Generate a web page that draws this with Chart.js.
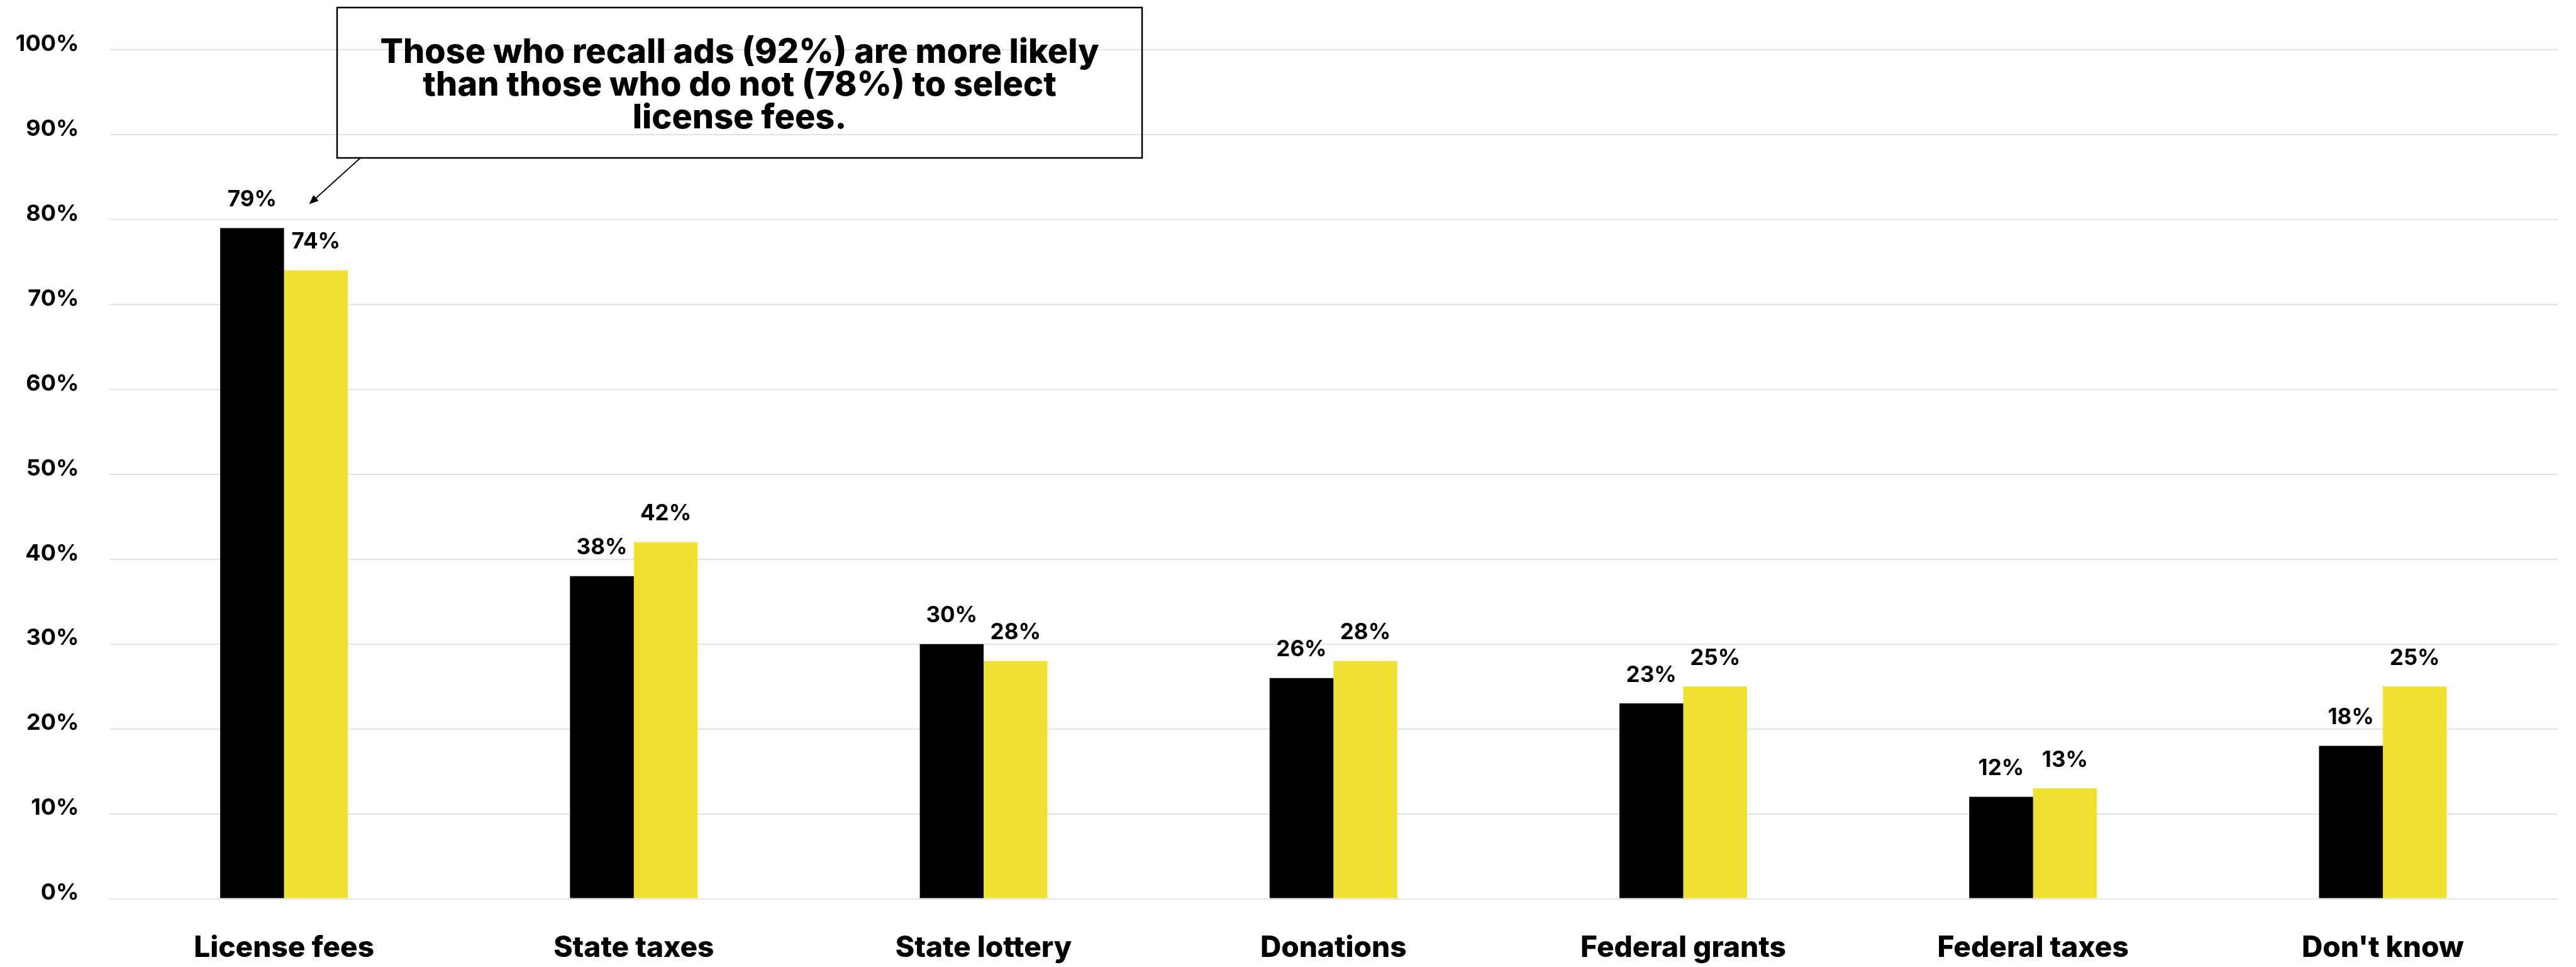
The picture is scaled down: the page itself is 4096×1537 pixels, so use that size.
<!DOCTYPE html>
<html lang="en">
<head>
    <meta charset="UTF-8">
    <title>Funding sources bar chart</title>
    <style>
        html, body {
            margin: 0;
            padding: 0;
            background-color: #ffffff;
        }

        .chart-container {
            width: 4096px;
            height: 1537px;
            position: relative;
        }
    </style>
</head>
<body>
    <div class="chart-container">
        <canvas id="barChart"></canvas>
    </div>

    <script src="https://cdn.jsdelivr.net/npm/chart.js"></script>
    <script>
const categories = ['License fees', 'State taxes', 'State lottery', 'Donations', 'Federal grants', 'Federal taxes', "Don't know"];
const recallValues = [79, 38, 30, 26, 23, 12, 18];     // black bars
const otherValues = [74, 42, 28, 28, 25, 13, 25];      // yellow bars
const yTickStep = 10;
const yMax = 100;
const noteLines = [
    'Those who recall ads (92%) are more likely',
    'than those who do not (78%) to select',
    'license fees.'
];

const FONT = 'Inter, "Noto Sans", Arial, sans-serif';

// value labels above each bar
const barLabels = {
    id: 'barLabels',
    afterDatasetsDraw(chart) {
        const ctx = chart.ctx;
        ctx.save();
        ctx.font = '700 35px ' + FONT;
        ctx.fillStyle = '#000000';
        ctx.textAlign = 'center';
        ctx.textBaseline = 'middle';
        chart.data.datasets.forEach((ds, i) => {
            chart.getDatasetMeta(i).data.forEach((bar, j) => {
                ctx.fillText(ds.data[j] + '%', bar.x, bar.y - 45);
            });
        });
        ctx.restore();
    }
};

// callout box with arrow pointing at the license fees bars
const callout = {
    id: 'callout',
    afterDraw(chart) {
        const ctx = chart.ctx;
        const x = chart.scales.x;
        const y = chart.scales.y;
        const box = { left: 536, top: 12, width: 1280, height: 239 };

        ctx.save();
        ctx.strokeStyle = '#000000';
        ctx.lineWidth = 2.5;
        ctx.strokeRect(box.left, box.top, box.width, box.height);

        ctx.font = '800 54px ' + FONT;
        ctx.fillStyle = '#000000';
        ctx.textAlign = 'center';
        ctx.textBaseline = 'alphabetic';
        noteLines.forEach((line, i) => {
            ctx.fillText(line, box.left + box.width / 2, 100 + i * 52);
        });

        // arrow
        const sx = 573, sy = box.top + box.height;
        const tx = x.getPixelForValue(0) + 40;
        const ty = y.getPixelForValue(81.8);
        const ang = Math.atan2(ty - sy, tx - sx);
        const head = 16;
        ctx.lineWidth = 1.8;
        ctx.beginPath();
        ctx.moveTo(sx, sy);
        ctx.lineTo(tx - Math.cos(ang) * head * 0.8, ty - Math.sin(ang) * head * 0.8);
        ctx.stroke();
        ctx.beginPath();
        ctx.moveTo(tx, ty);
        ctx.lineTo(tx - head * Math.cos(ang - 0.4), ty - head * Math.sin(ang - 0.4));
        ctx.lineTo(tx - head * Math.cos(ang + 0.4), ty - head * Math.sin(ang + 0.4));
        ctx.closePath();
        ctx.fill();
        ctx.restore();
    }
};

function renderBarChart() {
    const ctx = document.getElementById('barChart').getContext('2d');

    new Chart(ctx, {
        type: 'bar',
        data: {
            labels: categories,
            datasets: [{
                label: 'Recall ads',
                data: recallValues,
                backgroundColor: '#000000',
                categoryPercentage: 0.365,
                barPercentage: 1.0
            }, {
                label: 'Do not recall',
                data: otherValues,
                backgroundColor: '#f0e032',
                categoryPercentage: 0.365,
                barPercentage: 1.0
            }]
        },
        options: {
            responsive: true,
            maintainAspectRatio: false,
            devicePixelRatio: 1,
            animation: false,
            layout: {
                padding: { top: 79, right: 29, left: 0, bottom: 0 }
            },
            plugins: {
                legend: { display: false },
                tooltip: { enabled: false }
            },
            scales: {
                x: {
                    grid: { display: false },
                    border: { display: false },
                    ticks: {
                        color: '#000000',
                        font: { family: FONT, size: 46, weight: '800' },
                        padding: 43,
                        maxRotation: 0,
                        autoSkip: false
                    },
                    afterFit: scale => { scale.height = 108.5; }
                },
                y: {
                    min: 0,
                    max: yMax,
                    grid: { color: '#e4e4e4', lineWidth: 2, drawTicks: false },
                    border: { display: false },
                    ticks: {
                        stepSize: yTickStep,
                        color: '#000000',
                        font: { family: FONT, size: 36, weight: '700' },
                        padding: 48,
                        labelOffset: -9,
                        callback: v => v + '%'
                    },
                    afterFit: scale => { scale.width = 173.5; }
                }
            }
        },
        plugins: [barLabels, callout]
    });
}

document.fonts.load('800 36px Inter').then(renderBarChart, renderBarChart);
    </script>
</body>
</html>
